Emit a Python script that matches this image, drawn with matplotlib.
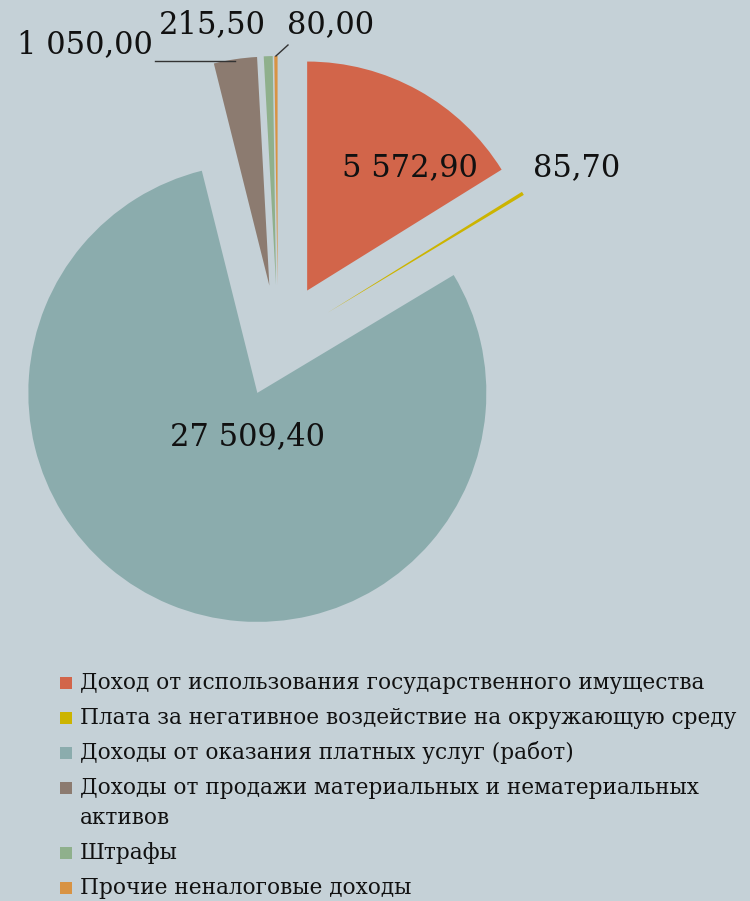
import numpy as np
import matplotlib.pyplot as plt
from matplotlib.patches import Rectangle

categories = [
    "Доход от использования государственного имущества",
    "Плата за негативное воздействие на окружающую среду",
    "Доходы от оказания платных услуг (работ)",
    "Доходы от продажи материальных и нематериальных\nактивов",
    "Штрафы",
    "Прочие неналоговые доходы",
]
values = [5572.90, 85.70, 27509.40, 1050.00, 215.50, 80.00]
value_labels = ["5 572,90", "85,70", "27 509,40", "1 050,00", "215,50", "80,00"]
colors = ["#D2654A", "#CCB400", "#8BACAD", "#8C7B70", "#8FB08C", "#D89343"]

bg = "#C5D1D7"
W, H = 750, 901

fig = plt.figure(figsize=(W / 100, H / 100), dpi=100, facecolor=bg)
ax = fig.add_axes([0, 0, 1, 1])
ax.set_facecolor(bg)

cx, cy, r = 278, H - 343, 229
explode = [60, 58, 54, 58, 58, 58]

wedges, _ = ax.pie(values, colors=colors, startangle=90, counterclock=False,
                   center=(cx, cy), radius=r, explode=explode, frame=True,
                   wedgeprops=dict(linewidth=0))
ax.set_xlim(0, W)
ax.set_ylim(0, H)
ax.axis("off")

font = dict(family="DejaVu Serif", size=22, color="#111111")

# label positions (pixel coords, y measured from top)
label_pos = [(410, 168), (577, 168), (248, 437), (85, 45), (212, 25), (331, 25)]
for txt, (x, y) in zip(value_labels, label_pos):
    ax.text(x, H - y, txt, ha="center", va="center", **font)


def outer_mid(w):
    a = np.deg2rad((w.theta1 + w.theta2) / 2)
    return w.center[0] + w.r * np.cos(a), w.center[1] + w.r * np.sin(a)


# leader lines
bx, by = outer_mid(wedges[3])
ax.plot([155, bx], [by - 2, by - 2], color="#333333", lw=1)
ox, oy = outer_mid(wedges[5])
ax.plot([ox, 288], [oy, H - 45], color="#333333", lw=1)

# legend drawn by hand so the marker sits on the first line of a wrapped entry
y = 683
for lab, col in zip(categories, colors):
    ax.add_patch(Rectangle((60, H - y - 6), 12, 12, color=col, lw=0))
    for line in lab.split("\n"):
        ax.text(80, H - y, line, ha="left", va="center",
                family="DejaVu Serif", size=15.6, color="#111111")
        y += 30
    y += 5

fig.savefig("out.png", dpi=100, facecolor=bg)
